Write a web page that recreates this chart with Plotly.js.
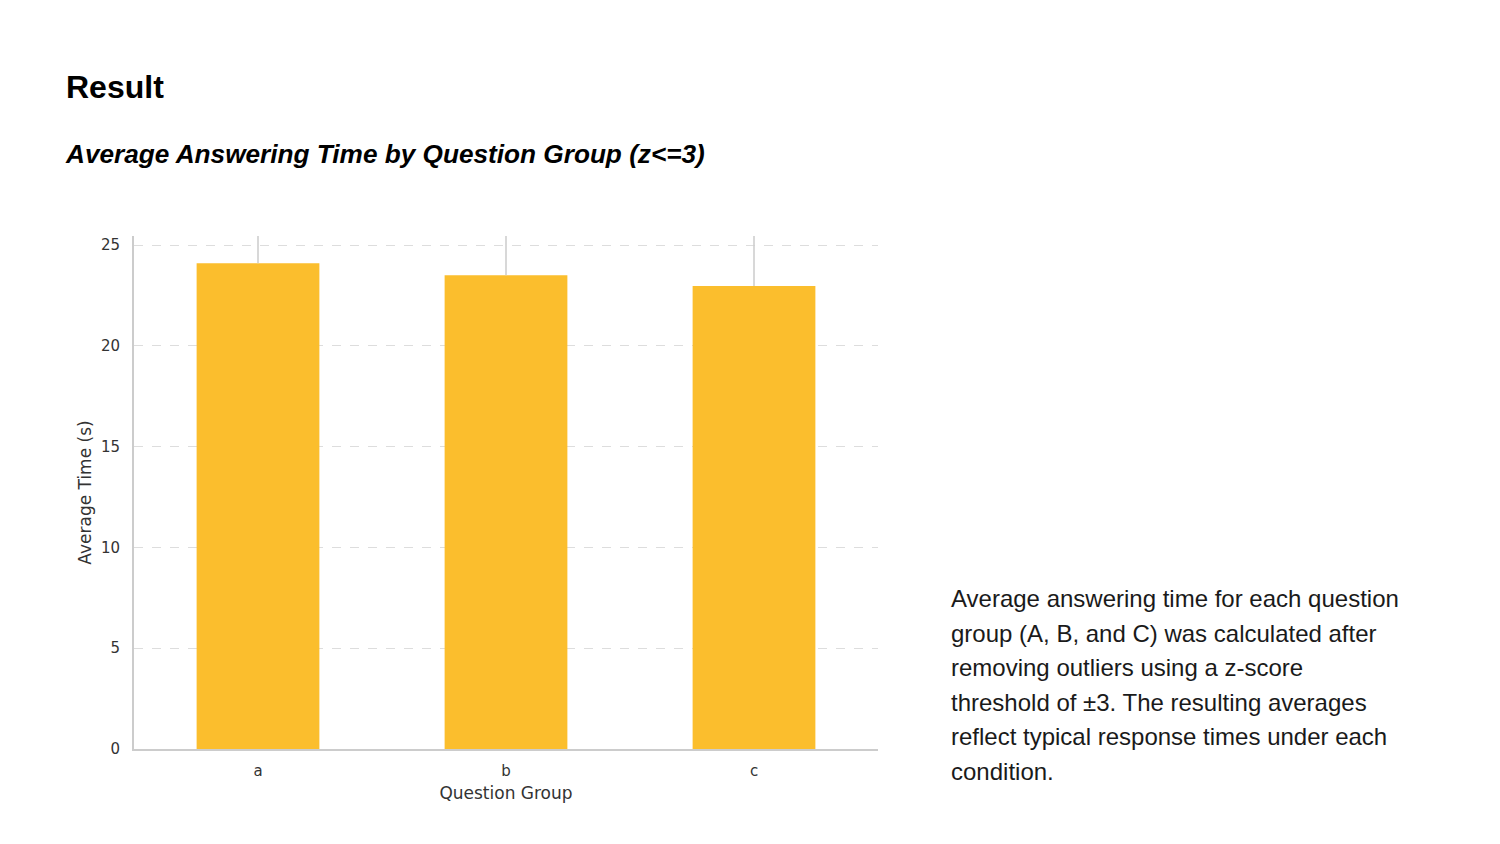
<!DOCTYPE html>
<html>
<head>
<meta charset="utf-8">
<script src="https://cdn.plot.ly/plotly-3.0.1.min.js"></script>
<style>
  html, body { margin: 0; padding: 0; background: #ffffff; }
  body { width: 1500px; height: 844px; position: relative; overflow: hidden; }
  #chart { position: absolute; left: 0; top: 0; width: 1500px; height: 844px; }
  .txt { position: absolute; font-family: "Liberation Sans", Arial, Helvetica, sans-serif; color: #000; white-space: nowrap; z-index: 5; }
  #heading { left: 66px; top: 71px; font-size: 32px; font-weight: bold; line-height: 32px; }
  #subtitle { left: 66px; top: 141px; font-size: 26.2px; font-weight: bold; font-style: italic; line-height: 26px; }
  #para { left: 951px; top: 582px; font-size: 24px; line-height: 34.6px; color: #1a1a1a; }
</style>
</head>
<body>
<div id="chart"></div>
<div class="txt" id="heading">Result</div>
<div class="txt" id="subtitle">Average Answering Time by Question Group (z&lt;=3)</div>
<div class="txt" id="para">Average answering time for each question<br>group (A, B, and C) was calculated after<br>removing outliers using a z-score<br>threshold of ±3. The resulting averages<br>reflect typical response times under each<br>condition.</div>
<script>
// Data
const groups = ["a", "b", "c"];
const avgTime = [24.1, 23.5, 22.97];
// upper error extents (error bars run past the top of the axis and are clipped)
const errUpper = [1.9, 2.5, 2.9];
const yTicks = [0, 5, 10, 15, 20, 25];

const trace = {
  type: "bar",
  x: groups,
  y: avgTime,
  width: 0.495,
  marker: { color: "rgb(251,190,45)", line: { width: 0 } },
  error_y: {
    type: "data",
    symmetric: false,
    array: errUpper,
    arrayminus: [0, 0, 0],
    color: "#cfcfcf",
    thickness: 1.6,
    width: 0
  },
  hoverinfo: "x+y"
};

const layout = {
  width: 1500,
  height: 844,
  paper_bgcolor: "rgba(0,0,0,0)",
  plot_bgcolor: "#ffffff",
  showlegend: false,
  margin: { l: 134, r: 622, t: 236, b: 95, pad: 0 },
  font: { family: "DejaVu Sans, sans-serif", color: "#333333" },
  xaxis: {
    type: "category",
    range: [-0.5, 2.5],
    showgrid: false,
    zeroline: false,
    showline: true,
    linecolor: "#cccccc",
    linewidth: 2,
    ticks: "",
    ticklabelstandoff: 7,
    tickfont: { family: "DejaVu Sans, sans-serif", size: 15, color: "#333333" },
    title: { text: "Question Group", font: { family: "DejaVu Sans, sans-serif", size: 17, color: "#333333" }, standoff: 8 }
  },
  yaxis: {
    range: [0, 25.45],
    tickvals: yTicks,
    ticktext: yTicks.map(String),
    showgrid: true,
    gridcolor: "#dddddd",
    griddash: "dash",
    gridwidth: 1,
    zeroline: false,
    showline: true,
    linecolor: "#cccccc",
    linewidth: 2,
    ticks: "",
    ticklabelstandoff: 9,
    tickfont: { family: "DejaVu Sans, sans-serif", size: 15, color: "#333333" },
    title: { text: "Average Time (s)", font: { family: "DejaVu Sans, sans-serif", size: 17, color: "#333333" }, standoff: 5 }
  }
};

Plotly.newPlot("chart", [trace], layout, { displayModeBar: false, staticPlot: true });
</script>
</body>
</html>
